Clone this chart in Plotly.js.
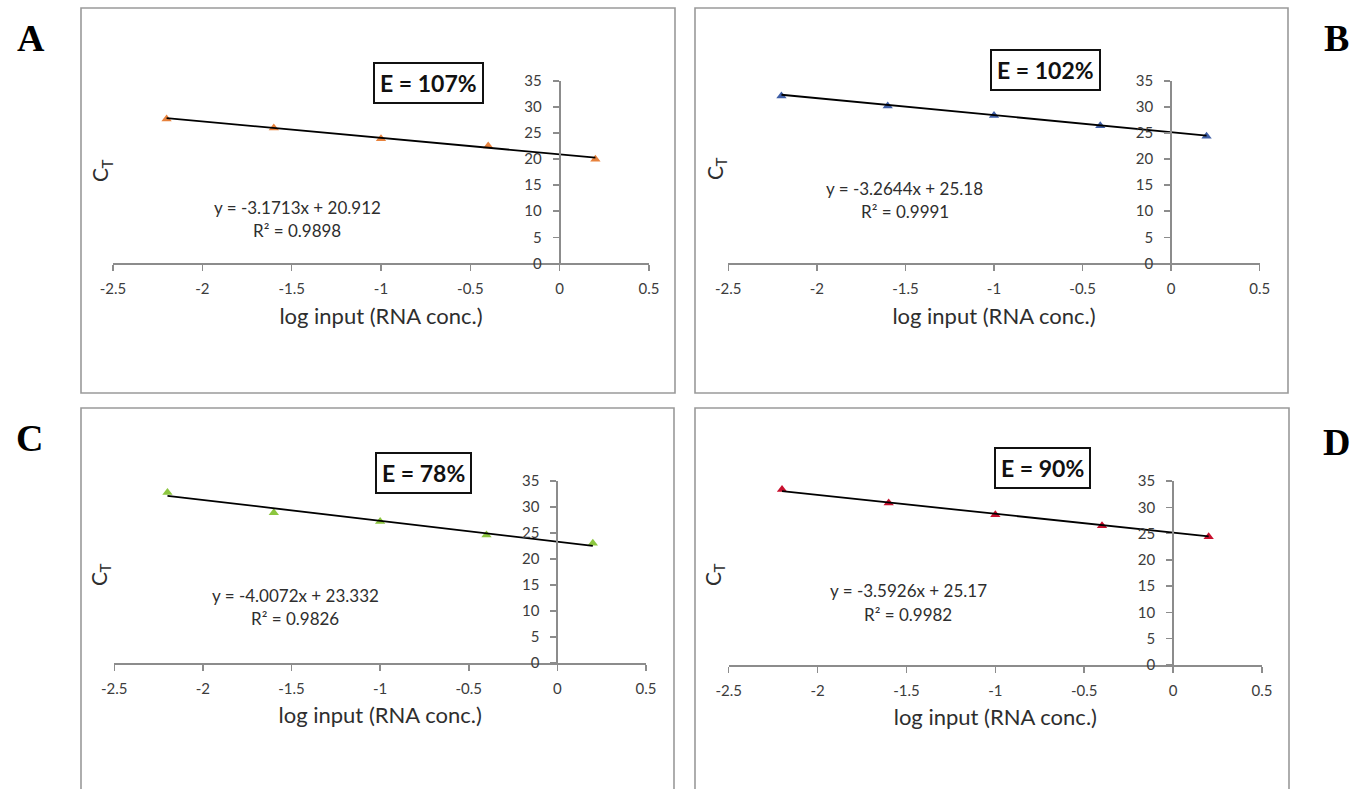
<!DOCTYPE html>
<html>
<head>
<meta charset="utf-8">
<script src="https://cdn.plot.ly/plotly-3.0.1.min.js"></script>
<style>
html,body{margin:0;padding:0;background:#ffffff;}
#chart{width:1362px;height:789px;}
</style>
</head>
<body>
<div id="chart"></div>
<script>
// ---------- data ----------
const logInput = [-2.2, -1.6, -1.0, -0.4, 0.2];
const ctA = [27.7, 26.0, 23.9, 22.5, 20.0];
const ctB = [32.1, 30.2, 28.4, 26.4, 24.4];
const ctC = [32.8, 28.9, 27.2, 24.6, 23.0];
const ctD = [33.4, 30.8, 28.6, 26.5, 24.4];
const fitX = [-2.2, 0.2];
const fitA = [27.89, 20.28];
const fitB = [32.36, 24.53];
const fitC = [32.15, 22.53];
const fitD = [33.07, 24.45];
const panelLetters = ['A', 'B', 'C', 'D'];
const equations = ['y = -3.1713x + 20.912', 'y = -3.2644x + 25.18', 'y = -4.0072x + 23.332', 'y = -3.5926x + 25.17'];
const rSquared = ['R² = 0.9898', 'R² = 0.9991', 'R² = 0.9826', 'R² = 0.9982'];
const efficiency = ['E = 107%', 'E = 102%', 'E = 78%', 'E = 90%'];
const xTickVals = [-2.5, -2, -1.5, -1, -0.5, 0, 0.5];
const xTickText = ['-2.5', '-2', '-1.5', '-1', '-0.5', '0', '0.5'];
const yTickVals = [0, 5, 10, 15, 20, 25, 30, 35];
const xTitle = 'log input (RNA conc.)';
const yTitleMain = 'C';
const yTitleSub = 'T';

const ctSeries = [ctA, ctB, ctC, ctD];
const fitSeries = [fitA, fitB, fitC, fitD];

// ---------- styles / positions (pixels in the 1362x789 page) ----------
const W = 1362, H = 789;
const px = v => v / W;
const py = v => 1 - v / H;
const markerColors = ['#E8823C', '#3E5EA6', '#8CC63F', '#C8102E'];
const panels = [
  {xl:113.0, xr:649.0, yb:263.3, yt:81, box:[81,8,675,393],    letter:[31,38],   ct:[100,171], eq:[297,207], r2:[297,231], ebox:[428,83]},
  {xl:728.3, xr:1259.7, yb:263.3, yt:81, box:[695,8,1288,393],  letter:[1336,38], ct:[714,169], eq:[905,188], r2:[905,212], ebox:[1045,70]},
  {xl:114.3, xr:646.0, yb:662.8, yt:481, box:[81,408,674,800],  letter:[29,438],  ct:[98,575],  eq:[295,595], r2:[295,618], ebox:[423,473]},
  {xl:728.7, xr:1262.0, yb:665.0, yt:481, box:[695,408,1289,800],letter:[1336,442], ct:[712,575], eq:[908,590], r2:[908,614], ebox:[1042,468]}
];

const axisColor = '#8c8c8c';
const textColor = '#2e2e2e';
const fontFam = 'Lato, "Open Sans", sans-serif';
const tickFont = {family: fontFam, size: 15, color: '#3c3c3c'};
const xRange = [-2.5, 0.5];
const yRange = [0, 35];

const data = [];
const layout = {
  width: W, height: H,
  margin: {l:0, r:0, t:0, b:0},
  paper_bgcolor: '#ffffff', plot_bgcolor: 'rgba(0,0,0,0)',
  showlegend: false,
  shapes: [], annotations: []
};

panels.forEach((p, i) => {
  const n = i + 1, m = i + 5;
  const xa = 'x' + n, ya = 'y' + n;
  const xdom = [px(p.xl), px(p.xr)];
  const ydom = [py(p.yb), py(p.yt)];
  const yPos = px(p.xl + (0 - xRange[0]) / (xRange[1] - xRange[0]) * (p.xr - p.xl));

  data.push({
    x: logInput, y: ctSeries[i], xaxis: xa, yaxis: ya, type: 'scatter', mode: 'markers',
    marker: {symbol: 'triangle-up', size: 9, color: markerColors[i]}, hoverinfo: 'x+y'
  });
  data.push({
    x: fitX, y: fitSeries[i], xaxis: xa, yaxis: ya, type: 'scatter', mode: 'lines',
    line: {color: '#000000', width: 1.8}, hoverinfo: 'skip'
  });

  layout['xaxis' + n] = {
    domain: xdom, range: xRange, anchor: ya, fixedrange: true,
    showgrid: false, zeroline: false, showline: true, linecolor: axisColor, linewidth: 2,
    tickmode: 'array', tickvals: xTickVals, ticktext: xTickText,
    ticks: 'outside', ticklen: 6, tickwidth: 1.5, tickcolor: axisColor,
    tickfont: tickFont, ticklabelstandoff: 5,
    title: {text: xTitle, font: {family: fontFam, size: 22, color: textColor}, standoff: 12}
  };
  layout['yaxis' + n] = {
    domain: ydom, range: yRange, anchor: 'free', position: yPos, fixedrange: true,
    showgrid: false, zeroline: false, showline: true, linecolor: axisColor, linewidth: 2,
    tickmode: 'array', tickvals: yTickVals,
    ticks: 'outside', ticklen: 6, tickwidth: 1.5, tickcolor: axisColor,
    tickfont: tickFont, ticklabelstandoff: 8
  };
  // inner half of the crossing tick marks
  layout['xaxis' + m] = {
    overlaying: xa, range: xRange, anchor: ya, fixedrange: true,
    showgrid: false, zeroline: false, showline: false, showticklabels: false,
    tickmode: 'array', tickvals: xTickVals,
    ticks: 'inside', ticklen: 6, tickwidth: 1.5, tickcolor: axisColor
  };
  layout['yaxis' + m] = {
    overlaying: ya, range: yRange, anchor: 'free', position: yPos, fixedrange: true,
    showgrid: false, zeroline: false, showline: false, showticklabels: false,
    tickmode: 'array', tickvals: yTickVals,
    ticks: 'inside', ticklen: 6, tickwidth: 1.5, tickcolor: axisColor
  };

  // panel frame
  layout.shapes.push({
    type: 'rect', xref: 'paper', yref: 'paper',
    x0: px(p.box[0]), x1: px(p.box[2]), y0: py(p.box[3]), y1: py(p.box[1]),
    line: {color: '#9a9a9a', width: 1.6}, fillcolor: 'rgba(0,0,0,0)', layer: 'below'
  });

  const ann = (xy, text, font, extra) => Object.assign({
    xref: 'paper', yref: 'paper', x: px(xy[0]), y: py(xy[1]),
    xanchor: 'center', yanchor: 'middle', showarrow: false, text: text, font: font
  }, extra || {});

  layout.annotations.push(ann(p.letter, panelLetters[i],
    {family: '"Liberation Serif", "Times New Roman", serif', size: 38, color: '#000000', weight: 'bold'}));
  // C with subscript T (rotated y label)
  layout.annotations.push(ann([p.ct[0], p.ct[1] + 4], yTitleMain,
    {family: fontFam, size: 21, color: textColor}, {textangle: -90}));
  layout.annotations.push(ann([p.ct[0] + 6.5, p.ct[1] - 7], yTitleSub,
    {family: fontFam, size: 15, color: textColor}, {textangle: -90}));
  layout.annotations.push(ann(p.eq, equations[i],
    {family: fontFam, size: 17, color: textColor}));
  layout.annotations.push(ann(p.r2, rSquared[i],
    {family: fontFam, size: 17, color: textColor}));
  layout.annotations.push(ann(p.ebox, efficiency[i],
    {family: fontFam, size: 23, color: '#111111', weight: 'bold'},
    {bordercolor: '#111111', borderwidth: 2, borderpad: 5, bgcolor: '#ffffff'}));
});

Plotly.newPlot('chart', data, layout, {staticPlot: true, displayModeBar: false});
</script>
</body>
</html>
